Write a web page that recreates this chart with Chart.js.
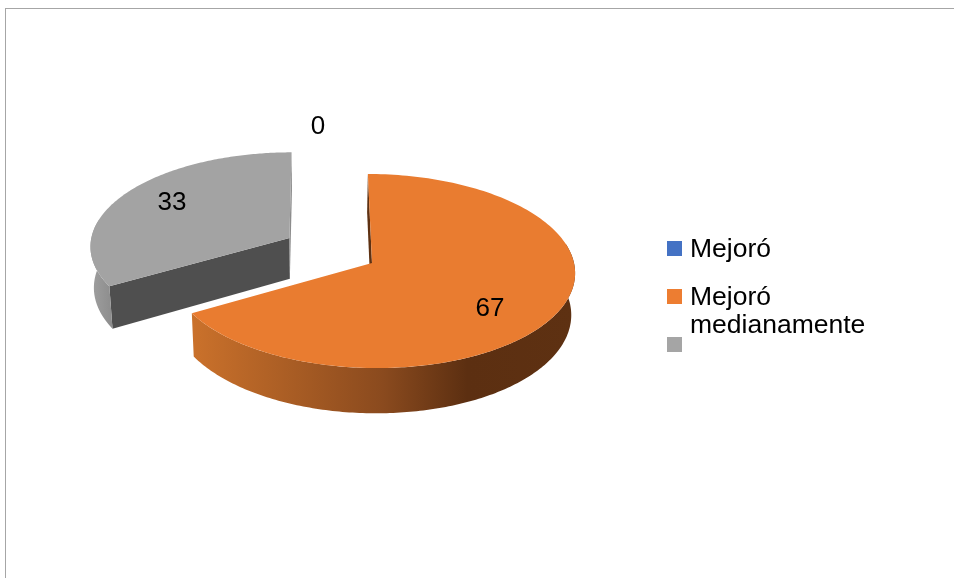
<!DOCTYPE html>
<html>
<head>
<meta charset="utf-8">
<title>Pie 3D</title>
<script src="https://cdn.jsdelivr.net/npm/chart.js@4/dist/chart.umd.min.js"></script>
<style>
    html, body { margin: 0; padding: 0; background: #fff; overflow: hidden; }
    #wrap { position: relative; width: 954px; height: 578px; }
    #frame { position: absolute; left: 5px; top: 8px; right: 0; bottom: 0;
             border-top: 1px solid #a6a6a6; border-left: 1px solid #a6a6a6; }
    canvas { position: absolute; left: 0; top: 0; }
</style>
</head>
<body>
<div id="wrap">
    <div id="frame"></div>
    <canvas id="chart" width="954" height="578"></canvas>
</div>
<script>
const categories = ['Mejoró', 'Mejoró medianamente', ''];
const values = [0, 66.67, 33.33];
const sliceColors = ['#4472C4', '#ED7D31', '#A5A5A5'];
const topColors = ['#4472C4', '#E97C30', '#A3A3A3'];
const explode = [0, 0, 96];
const legendLines = [['Mejoró'], ['Mejoró', 'medianamente'], ['']];

// view of the tilted pie
const VANISH_X = 318;      // x the depth lines run to
const TILT = 0.477;        // squash of the top face
const PERSPECTIVE = 0.00041;
const THICKNESS = 41.5;
const BOTTOM_SHRINK = 0.985;
const EXPLODE_LIFT = 2.5;  // exploded wedge rides a little higher on screen

function project(cx, cy, u, v, lower) {
    const s = 1 / (1 - PERSPECTIVE * v);
    const q = lower ? BOTTOM_SHRINK : 1;
    return {
        x: VANISH_X + (cx + u - VANISH_X) * s * q,
        y: cy + TILT * v * s + (lower ? THICKNESS * s : 0)
    };
}

function fillPoly(ctx, pts, fill) {
    ctx.beginPath();
    pts.forEach((p, i) => i ? ctx.lineTo(p.x, p.y) : ctx.moveTo(p.x, p.y));
    ctx.closePath();
    ctx.fillStyle = fill;
    ctx.fill();
}

function rimGradient(ctx, i) {
    let g;
    if (i === 1) {
        g = ctx.createLinearGradient(193, 0, 574, 0);
        g.addColorStop(0, '#CA712B');
        g.addColorStop(0.5, '#8A4A1E');
        g.addColorStop(0.72, '#5C2F11');
        g.addColorStop(1, '#5E3112');
    } else {
        g = ctx.createLinearGradient(90, 0, 115, 0);
        g.addColorStop(0, '#A0A0A0');
        g.addColorStop(1, '#8A8A8A');
    }
    return g;
}

// Pie controller that paints the library's arcs as thick 3D wedges
class Pie3dController extends Chart.PieController {
    draw() {
        const ctx = this.chart.ctx;
        const arcs = this.getMeta().data;
        const order = arcs.map((_, i) => i).filter(i => values[i] > 0);
        order.sort((a, b) => explode[b] - explode[a]);   // exploded wedge sits behind
        order.forEach(i => this.drawWedge(ctx, arcs[i], i));
    }

    drawWedge(ctx, arc, i) {
        const { x, y, startAngle, endAngle, outerRadius } = arc.getProps(['x', 'y', 'startAngle', 'endAngle', 'outerRadius']);
        const offset = arc.options.offset;
        const mid = (startAngle + endAngle) / 2;
        const du = Math.cos(mid) * offset;
        const dv = Math.sin(mid) * offset;
        const cy = offset ? y - EXPLODE_LIFT : y;
        const at = (a, r, lower) => project(x, cy, du + Math.cos(a) * r, dv + Math.sin(a) * r, lower);
        const face = (a, fill) => fillPoly(ctx, [at(a, 0, false), at(a, outerRadius, false),
                                                 at(a, outerRadius, true), at(a, 0, true)], fill);

        // radial faces
        if (i === 1) {
            face(startAngle, '#5E3112');
        } else {
            face(startAngle, '#4F4F4F');
            face(endAngle, '#8C8C8C');
        }

        // rim, front half of the wedge only
        const steps = 180;
        const rimStart = Math.max(startAngle, -0.2);
        const rimEnd = Math.min(endAngle, Math.PI + 0.2);
        const upper = [], lower = [];
        for (let k = 0; k <= steps; k++) {
            const a = rimStart + (rimEnd - rimStart) * k / steps;
            upper.push(at(a, outerRadius, false));
            lower.unshift(at(a, outerRadius, true));
        }
        fillPoly(ctx, upper.concat(lower), rimGradient(ctx, i));

        // top face
        const outline = [at(startAngle, 0, false)];
        for (let k = 0; k <= steps; k++) {
            outline.push(at(startAngle + (endAngle - startAngle) * k / steps, outerRadius, false));
        }
        fillPoly(ctx, outline, topColors[i]);
    }
}
Pie3dController.id = 'pie3d';
Chart.register(Pie3dController);

const dataLabels = {
    id: 'dataLabels',
    afterDatasetsDraw(chart, args, opts) {
        const ctx = chart.ctx;
        ctx.save();
        ctx.font = opts.font;
        ctx.fillStyle = '#000';
        ctx.textAlign = 'center';
        ctx.textBaseline = 'middle';
        values.forEach((v, i) => ctx.fillText(String(Math.round(v)), opts.at[i][0], opts.at[i][1]));
        ctx.restore();
    }
};

const sideLegend = {
    id: 'sideLegend',
    afterDraw(chart, args, opts) {
        const ctx = chart.ctx;
        ctx.save();
        ctx.textBaseline = 'alphabetic';
        ctx.font = opts.font;
        categories.forEach((c, i) => {
            const top = opts.top + i * opts.step;
            ctx.fillStyle = sliceColors[i];
            ctx.fillRect(opts.left, top, opts.box, opts.box);
            ctx.fillStyle = '#000';
            legendLines[i].forEach((line, l) => {
                ctx.fillText(line, opts.left + opts.box + 8, top + 16 + l * opts.lineHeight);
            });
        });
        ctx.restore();
    }
};

new Chart(document.getElementById('chart'), {
    type: 'pie3d',
    data: {
        labels: categories,
        datasets: [{
            data: values,
            backgroundColor: sliceColors,
            offset: explode,
            borderWidth: 0,
            radius: 202
        }]
    },
    options: {
        responsive: false,
        animation: false,
        layout: { padding: { left: 0, top: 0, right: 210, bottom: 52 } },
        plugins: {
            legend: { display: false },
            tooltip: { enabled: false },
            dataLabels: { font: '26px "Liberation Sans"', at: [[318, 127], [490, 309], [172, 203]] },
            sideLegend: { left: 667, top: 241, box: 15, step: 48, lineHeight: 28,
                          font: '26.5px "Liberation Sans"' }
        }
    },
    plugins: [dataLabels, sideLegend]
});
</script>
</body>
</html>
